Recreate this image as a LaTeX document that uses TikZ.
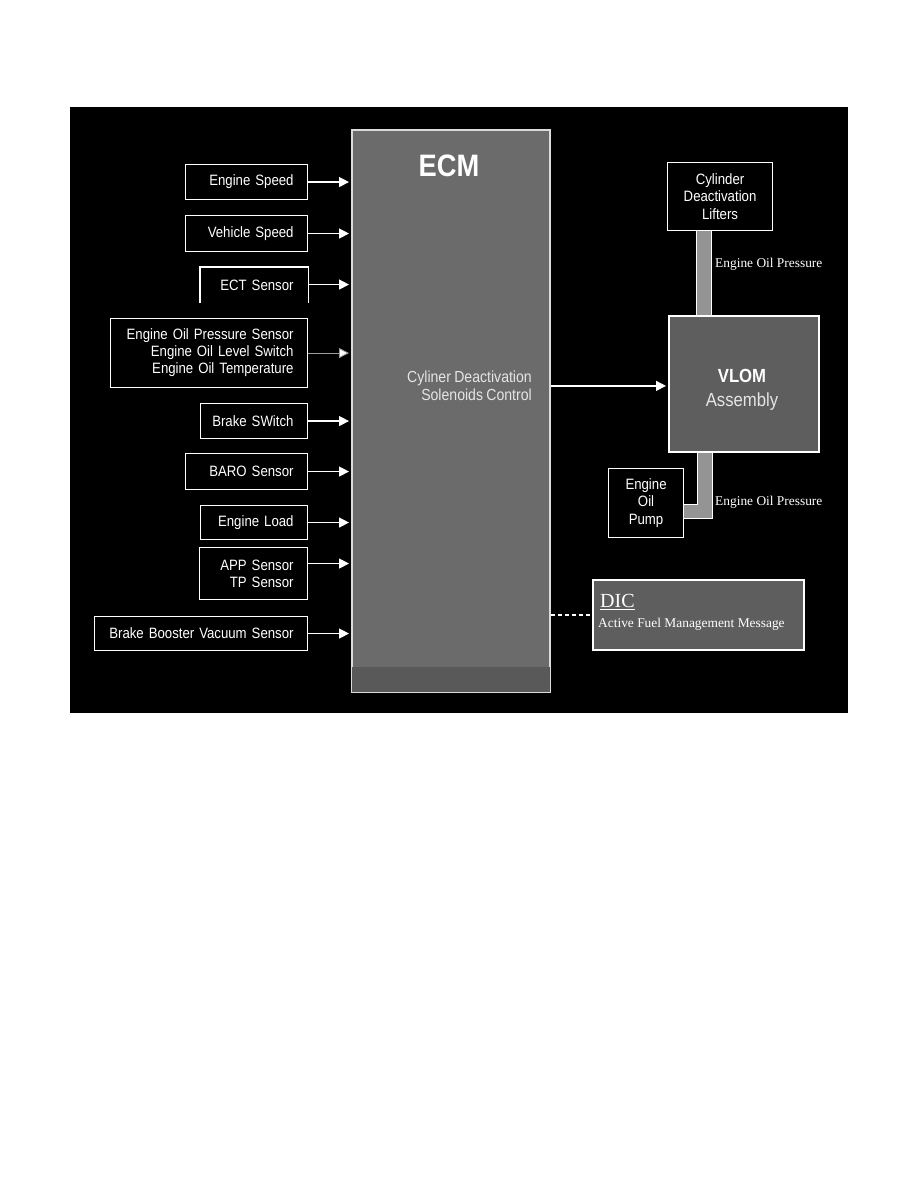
\documentclass[tikz,border=0pt]{standalone}
\usepackage{fontspec}
\newfontfamily\hel[FakeStretch=0.88,WordSpace=0.85]{Liberation Sans}
\newfontfamily\tim{Liberation Serif}
\usetikzlibrary{arrows.meta}
\definecolor{ecmfill}{gray}{0.42}
\definecolor{ecmdark}{gray}{0.35}
\definecolor{vlomfill}{gray}{0.37}
\definecolor{pipefill}{gray}{0.58}
\definecolor{edge}{gray}{0.86}
\definecolor{softwhite}{gray}{0.90}
\newcommand\rt[1]{\noindent\hbox to\hsize{\hss#1}}
\tikzset{
  sbox/.style={draw=white, line width=1.1pt, fill=black, text=white,
    font=\hel\fontsize{15}{17}\selectfont, align=right,
    inner xsep=14pt, inner ysep=0pt, anchor=north west},
  cbox/.style={draw=white, line width=1.1pt, fill=black, text=white,
    font=\hel\fontsize{15}{17.5}\selectfont, align=center,
    inner sep=0pt, anchor=north west},
  arr/.style={draw=white, line width=1.4pt, -{Triangle[length=10pt,width=10pt]}, shorten >=2pt},
  thinarr/.style={draw=gray!75!white, line width=0.9pt, -{Triangle[length=10pt,width=10pt,fill=white]}, shorten >=2pt},
  pipe/.style={draw=white, line width=1.1pt, double=pipefill, double distance=13.5pt, line join=miter},
  serlbl/.style={text=white, font=\tim\fontsize{13.4}{16}\selectfont, inner sep=0pt, anchor=west},
}
\begin{document}
\begin{tikzpicture}[x=1pt,y=-1pt]
\useasboundingbox (0,0) rectangle (918,1188);
\fill[black] (70,107) rectangle (848,713);

% ECM
\node[draw=edge, line width=1.8pt, fill=ecmfill, minimum width=198pt, minimum height=562pt,
      inner sep=0pt, anchor=north west] (ecm) at (351,129) {};
\fill[ecmdark] ([xshift=1pt,yshift=1pt]ecm.south west) rectangle ([xshift=-1pt,yshift=26pt]ecm.south east);
\node[text=white, font=\hel\bfseries\fontsize{31}{34}\selectfont, inner sep=0pt] (ecmlbl) at (449,166) {ECM};
\node[text=softwhite, font=\hel\fontsize{16}{18}\selectfont, align=right, anchor=east, inner sep=0pt] (cdsc) at (532,386)
  {Cyliner Deactivation\\Solenoids Control};

% sensor boxes
\node[sbox, minimum width=122pt, minimum height=35pt, text width=94pt] (es) at (185,164) {\rt{Engine Speed}};
\node[sbox, minimum width=122pt, minimum height=36pt, text width=94pt] (vs) at (185,215) {\rt{Vehicle Speed}};
\node[sbox, draw=none, minimum width=107pt, minimum height=35pt, text width=79pt] (ect) at (200,267) {\rt{ECT Sensor}};
\draw[white, line width=1.1pt] (ect.south west) -- (ect.north west) -- (ect.north east) -- (ect.south east);
\node[sbox, minimum width=197pt, minimum height=69pt, text width=169pt] (oil) at (110,318)
  {\rt{Engine Oil Pressure Sensor}\\\rt{Engine Oil Level Switch}\\\rt{Engine Oil Temperature}};
\node[sbox, minimum width=107pt, minimum height=35pt, text width=79pt] (brk) at (200,403) {\rt{Brake SWitch}};
\node[sbox, minimum width=122pt, minimum height=36pt, text width=94pt] (baro) at (185,453) {\rt{BARO Sensor}};
\node[sbox, minimum width=107pt, minimum height=34pt, text width=79pt] (load) at (200,505) {\rt{Engine Load}};
\node[sbox, minimum width=108pt, minimum height=52pt, text width=80pt] (app) at (199,547) {\rt{APP Sensor}\\\rt{TP Sensor}};
\node[sbox, minimum width=213pt, minimum height=34pt, text width=185pt] (bbv) at (94,616) {\rt{Brake Booster Vacuum Sensor}};

% input arrows
\draw[arr] (es.east) -- (es.east -| ecm.west);
\draw[arr] (vs.east) -- (vs.east -| ecm.west);
\draw[arr] ([yshift=0.5pt]ect.east) -- ([yshift=0.5pt]ect.east -| ecm.west);
\draw[thinarr] (oil.east) -- (oil.east -| ecm.west);
\draw[arr] (brk.east) -- (brk.east -| ecm.west);
\draw[arr] (baro.east) -- (baro.east -| ecm.west);
\draw[arr] (load.east) -- (load.east -| ecm.west);
\draw[arr] ([yshift=10pt]app.east) -- ([yshift=10pt]app.east -| ecm.west);
\draw[arr] (bbv.east) -- (bbv.east -| ecm.west);

% right side
\node[cbox, minimum width=105pt, minimum height=68pt] (lift) at (667,162) {Cylinder\\Deactivation\\Lifters};
\node[draw=white, line width=1.8pt, fill=vlomfill, minimum width=150pt, minimum height=136pt,
      inner sep=0pt, anchor=north west] (vlom) at (668,315) {};
\node[text=white, font=\hel\fontsize{19}{24}\selectfont, align=center, inner sep=0pt] (vlomlbl) at (742,390)
  {\bfseries VLOM\\\color{softwhite}Assembly};
\node[cbox, minimum width=75pt, minimum height=69pt] (pump) at (608,468) {Engine\\Oil\\Pump};

\draw[pipe] ([xshift=37pt]lift.south west) coordinate (p1) -- (p1 |- vlom.north);
\draw[pipe] ([xshift=37pt]vlom.south west) |- ([yshift=-8.5pt]pump.east);

\node[serlbl] (eop1) at (715,264) {Engine Oil Pressure};
\node[serlbl] (eop2) at (715,502) {Engine Oil Pressure};

\draw[arr] ([yshift=-2pt]vlom.west -| ecm.east) -- ([yshift=-2pt]vlom.west);

% DIC
\node[draw=white, line width=1.6pt, fill=vlomfill, minimum width=211pt, minimum height=70pt,
      inner sep=0pt, anchor=north west] (dic) at (592,579) {};
\node[serlbl, font=\tim\fontsize{20}{22}\selectfont] (diclbl) at ([xshift=8pt,yshift=13pt]dic.west) {\underline{DIC}};
\node[serlbl] (afm) at ([xshift=6pt,yshift=-9pt]dic.west) {Active Fuel Management Message};
\draw[white, line width=1.6pt, dash pattern=on 4pt off 3pt] (dic.west -| ecm.east) -- (dic.west);
\end{tikzpicture}
\end{document}
